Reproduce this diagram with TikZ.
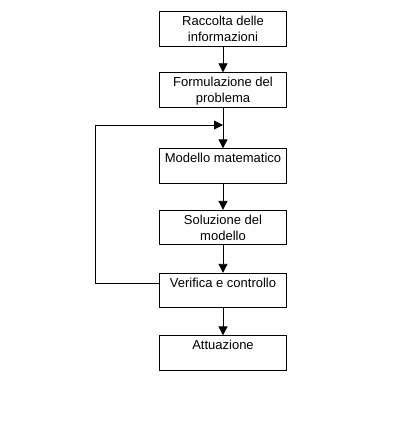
\documentclass[tikz,border=0pt]{standalone}
\usepackage{fontspec}
\setmainfont{Liberation Sans}
\usetikzlibrary{arrows.meta}
\begin{document}
\begin{tikzpicture}[x=1pt,y=-1pt,
  boxnode/.style={draw,line width=0.8pt,minimum width=127pt,minimum height=34.5pt,inner sep=0pt},
  txt/.style={anchor=north,align=center,inner sep=0pt,font=\fontsize{13}{16}\selectfont},
  flow/.style={line width=0.8pt,-{Triangle[length=9pt,width=9pt]}}]
\useasboundingbox (0,0) rectangle (415,425);
\node[boxnode] (b1) at (223,28.7) {};
\node[boxnode] (b2) at (223,90) {};
\node[boxnode] (b3) at (223,166) {};
\node[boxnode] (b4) at (223,227.5) {};
\node[boxnode] (b5) at (223,290.5) {};
\node[boxnode] (b6) at (223,353) {};
\node[txt] (t1) at ([yshift=-5pt]b1.north) {Raccolta delle\\informazioni};
\node[txt] (t2) at ([yshift=-5pt]b2.north) {Formulazione del\\problema};
\node[txt] (t3) at ([yshift=-5pt]b3.north) {Modello matematico};
\node[txt] (t4) at ([yshift=-5pt]b4.north) {Soluzione del\\modello};
\node[txt] (t5) at ([yshift=-5pt]b5.north) {Verifica e controllo};
\node[txt] (t6) at ([yshift=-5pt]b6.north) {Attuazione};
\draw[flow] (b1) -- (b2);
\draw[flow] (b2) -- (b3);
\draw[flow] (b3) -- (b4);
\draw[flow] (b4) -- (b5);
\draw[flow] (b5) -- (b6);
\coordinate (ls) at ([yshift=7pt]b5.west);
\coordinate (lc) at (95,125);
\coordinate (le) at (223,125);
\draw[flow] (ls) -| (lc) -- (le);
\end{tikzpicture}
\end{document}
